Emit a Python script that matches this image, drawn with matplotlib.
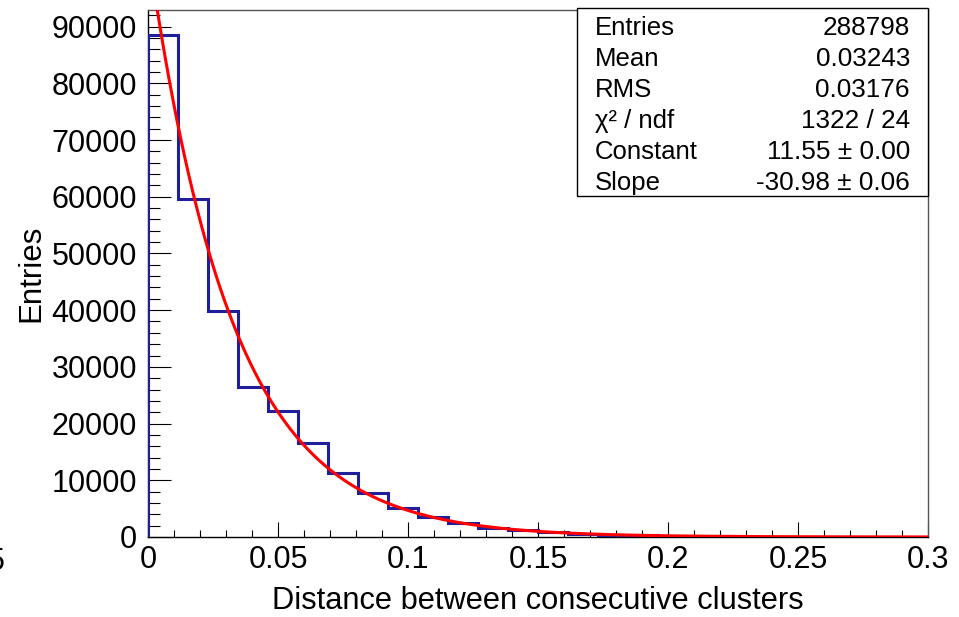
import numpy as np
import matplotlib
matplotlib.use("Agg")
import matplotlib.pyplot as plt
from matplotlib.patches import Rectangle
from matplotlib.ticker import MultipleLocator

plt.rcParams['font.family'] = ['Liberation Sans', 'DejaVu Sans']

# histogram: 26 bins between 0 and 0.3
x_min = 0.0
x_max = 0.3
n_bins = 26
counts = [88500, 59570, 39870, 26510, 22280, 16640, 11340, 7710, 5170, 3580,
          2410, 1650, 1150, 800, 560, 390, 270, 190, 130, 90,
          65, 45, 30, 22, 15, 10]

# exponential fit parameters (from the stats box)
fit_constant = 11.55
fit_slope = -30.98

stats_names = ["Entries", "Mean", "RMS", "χ² / ndf", "Constant", "Slope"]
stats_values = ["288798", "0.03243", "0.03176", "1322 / 24",
                "11.55 ± 0.00", "-30.98 ± 0.06"]

W, H = 959, 617
fig = plt.figure(figsize=(W / 100, H / 100), dpi=100)

ax_l, ax_r, ax_t, ax_b = 148, 928, 10, 537
ax = fig.add_axes([ax_l / W, 1 - ax_b / H, (ax_r - ax_l) / W, (ax_b - ax_t) / H])

edges = np.linspace(x_min, x_max, n_bins + 1)
ax.stairs(counts, edges, baseline=0, color="#1f1f9c", linewidth=2.2, zorder=3)

xf = np.linspace(x_min, x_max, 400)
ax.plot(xf, np.exp(fit_constant + fit_slope * xf), color="red", linewidth=2.2, zorder=4)

ax.set_xlim(x_min, x_max)
ax.set_ylim(0, max(counts) * 1.05)

ax.xaxis.set_major_locator(MultipleLocator(0.05))
ax.xaxis.set_minor_locator(MultipleLocator(0.01))
ax.yaxis.set_major_locator(MultipleLocator(10000))
ax.yaxis.set_minor_locator(MultipleLocator(2000))
ax.set_xticks(np.arange(0, 0.301, 0.05))
ax.set_xticklabels(["0", "0.05", "0.1", "0.15", "0.2", "0.25", "0.3"])

ax.tick_params(axis="both", which="both", direction="in", top=False, right=False,
               labelsize=22, width=0.8, color="black")
ax.tick_params(axis="x", which="major", length=10.8, pad=6)
ax.tick_params(axis="x", which="minor", length=5)
ax.tick_params(axis="y", which="major", length=16.5, pad=8)
ax.tick_params(axis="y", which="minor", length=8.3)

for side in ["left", "bottom"]:
    ax.spines[side].set_linewidth(1.0)
    ax.spines[side].set_color("black")
for side in ["top", "right"]:
    ax.spines[side].set_linewidth(1.0)
    ax.spines[side].set_color("#555555")

ax.set_ylabel("Entries", fontsize=22.5, va="center")
ax.yaxis.set_label_coords((31 - ax_l) / (ax_r - ax_l), 0.5)
fig.text(538 / W, 1 - 609 / H, "Distance between consecutive clusters",
         fontsize=22.2, ha="center", va="baseline")

# stats box
box_l, box_r, box_t, box_b = 577, 928, 8, 196
fig.patches.append(Rectangle((box_l / W, 1 - box_b / H), (box_r - box_l) / W,
                             (box_b - box_t) / H, transform=fig.transFigure,
                             facecolor="white", edgecolor="black", linewidth=1.0,
                             zorder=5))
baselines = [35, 66, 97, 128, 159, 190]
for name, val, b in zip(stats_names, stats_values, baselines):
    fig.text(595 / W, 1 - b / H, name, fontsize=18.5, ha="left", va="baseline", zorder=6)
    fig.text(910 / W, 1 - b / H, val, fontsize=18.8, ha="right", va="baseline", zorder=6)

# cropped leftover label at the left edge
fig.text(5 / W, 1 - 570 / H, "5", fontsize=22, ha="right", va="baseline")

fig.savefig("out.png", dpi=100)
